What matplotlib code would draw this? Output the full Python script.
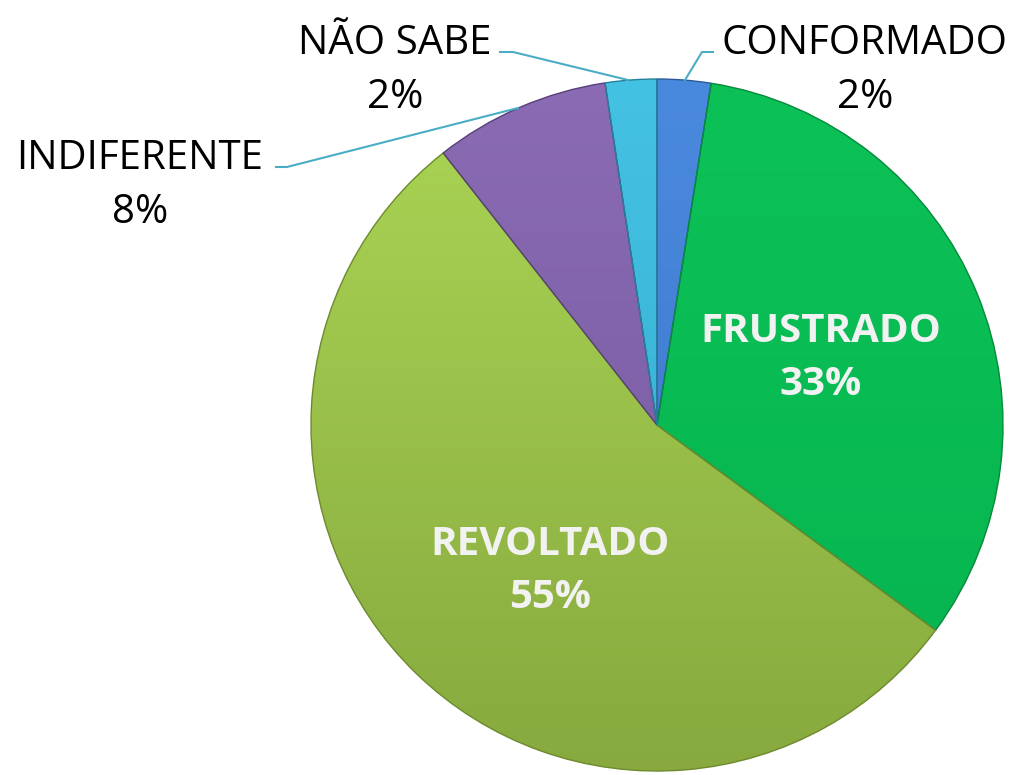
import numpy as np
import matplotlib
matplotlib.use("Agg")
import matplotlib.pyplot as plt
from matplotlib.colors import LinearSegmentedColormap

# pie data, clockwise from 12 o'clock
categories = ["CONFORMADO", "FRUSTRADO", "REVOLTADO", "INDIFERENTE", "NÃO SABE"]
values = [2.5, 32.6, 54.3, 8.2, 2.4]
pct_labels = ["2%", "33%", "55%", "8%", "2%"]
top_colors = ["#4a8ade", "#0cc257", "#abd655", "#8a6bb4", "#44c2e3"]
bottom_colors = ["#3a74c6", "#06b34f", "#87a93e", "#7458a0", "#33a9cc"]
edge_colors = ["#2c5a9a", "#078a3c", "#6d8a2e", "#563f7a", "#257f9a"]

plt.rcParams['font.family'] = ['Open Sans', 'DejaVu Sans']

fig = plt.figure(figsize=(10.18, 7.75), dpi=100)
ax = fig.add_axes([0, 0, 1, 1])

# pixel geometry of the reference: centre (657, 425), radius 346
R = 346.0
cx, cy = 657.0, 425.0

wedges, _ = ax.pie(values, startangle=90, counterclock=False, radius=1.0,
                   center=(0, 0), frame=False,
                   wedgeprops=dict(linewidth=1.0))

# vertical gradient in each slice, clipped to the wedge
for w, c0, c1, ec in zip(wedges, top_colors, bottom_colors, edge_colors):
    w.set_facecolor("none")
    w.set_edgecolor(ec)
    w.set_zorder(3)
    cmap = LinearSegmentedColormap.from_list("g", [c1, c0])
    grad = np.linspace(0, 1, 256).reshape(-1, 1)
    im = ax.imshow(grad, cmap=cmap, extent=(-1, 1, -1, 1), origin="lower",
                   aspect="auto", zorder=2)
    im.set_clip_path(w)

ax.set_xlim(-cx / R, (1018 - cx) / R)
ax.set_ylim(-(775 - cy) / R, cy / R)
ax.set_aspect("auto")
ax.axis("off")


def px(x, y):
    return (x - cx) / R, (cy - y) / R


line_color = "#4bacc6"
fs = 29
ls = 1.45

# outside labels with leader lines
outside = {
    0: dict(text=(865, 71), line=[(713, 52), (702, 52), (685, 80)]),
    4: dict(text=(395, 71), line=[(500, 52), (513, 52), (628, 80)]),
    3: dict(text=(140, 186), line=[(276, 167), (287, 167), (518, 108)]),
}
for i, spec in outside.items():
    tx, ty = px(*spec["text"])
    ax.text(tx, ty, categories[i] + "\n" + pct_labels[i], ha="center",
            va="center", fontsize=fs, color="black", linespacing=ls,
            zorder=5)
    xs, ys = zip(*[px(x, y) for x, y in spec["line"]])
    ax.plot(xs, ys, color=line_color, lw=1.5, zorder=4)

# inside labels
inside = {1: (821, 358), 2: (550, 571)}
for i, (x, y) in inside.items():
    tx, ty = px(x, y)
    ax.text(tx, ty, categories[i] + "\n" + pct_labels[i], ha="center",
            va="center", fontsize=fs, fontweight="bold", color="#f2f2f2",
            linespacing=ls, zorder=5)

fig.savefig("out.png", dpi=100)
